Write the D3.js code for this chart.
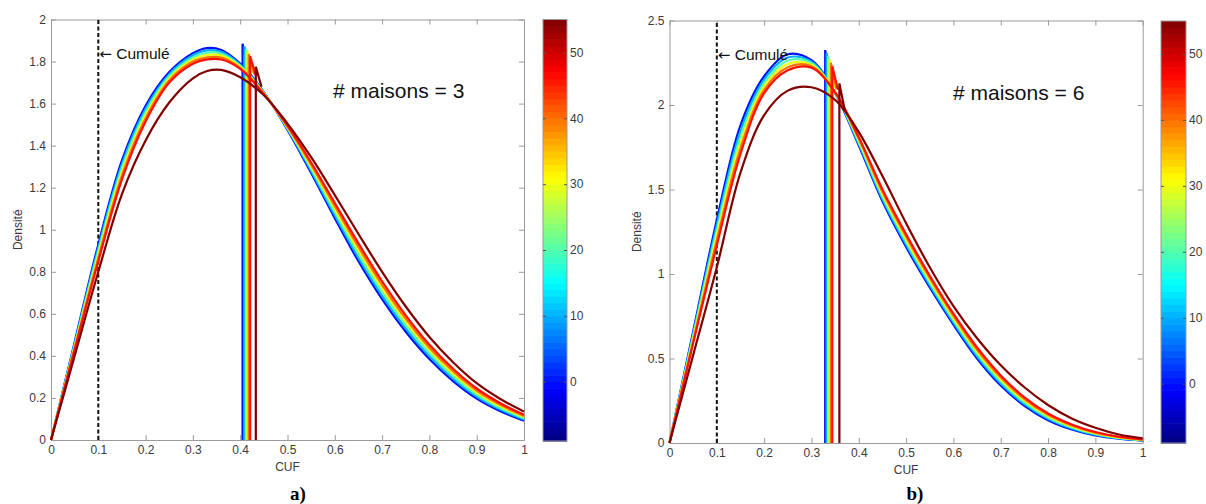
<!DOCTYPE html>
<html><head><meta charset="utf-8">
<script src="https://cdn.jsdelivr.net/npm/d3@7"></script>
<style>
body{margin:0;background:#fff;}
text{font-family:"Liberation Sans",Arial,sans-serif;}
</style></head>
<body><svg id="c" width="1206" height="504"></svg>
<script>
// ---------- DATA ----------
const seriesValues = [0, 10, 20, 30, 40, 46, 55];
const colorDomain = [-9, 55];
const colorbarTicks = [0, 10, 20, 30, 40, 50];
const xTicks = [0, 0.1, 0.2, 0.3, 0.4, 0.5, 0.6, 0.7, 0.8, 0.9, 1];
const yTicksA = [0, 0.2, 0.4, 0.6, 0.8, 1, 1.2, 1.4, 1.6, 1.8, 2];
const yTicksB = [0, 0.5, 1, 1.5, 2, 2.5];
const cumulX = 0.1;

// panel a) (# maisons = 3)
const cufA = [0, 0.05, 0.1, 0.15, 0.2, 0.25, 0.3, 0.33, 0.36, 0.4, 0.45, 0.5, 0.55, 0.6, 0.65, 0.7, 0.75, 0.8, 0.85, 0.9, 0.95, 1];
const densA0  = [0, 0.465, 0.93, 1.33, 1.59, 1.75, 1.84, 1.864, 1.855, 1.79, 1.655, 1.475, 1.27, 1.055, 0.85, 0.67, 0.515, 0.385, 0.28, 0.197, 0.137, 0.092];
const densA10 = [0, 0.458, 0.914, 1.312, 1.575, 1.74, 1.83, 1.853, 1.846, 1.785, 1.653, 1.479, 1.28, 1.069, 0.867, 0.687, 0.531, 0.399, 0.292, 0.207, 0.145, 0.098];
const densA20 = [0, 0.451, 0.898, 1.294, 1.56, 1.73, 1.82, 1.842, 1.837, 1.78, 1.651, 1.483, 1.29, 1.084, 0.884, 0.704, 0.546, 0.414, 0.304, 0.216, 0.152, 0.103];
const densA30 = [0, 0.444, 0.882, 1.276, 1.545, 1.72, 1.81, 1.831, 1.828, 1.775, 1.649, 1.487, 1.30, 1.098, 0.901, 0.721, 0.562, 0.428, 0.315, 0.226, 0.16, 0.109];
const densA40 = [0, 0.437, 0.866, 1.258, 1.53, 1.71, 1.80, 1.82, 1.819, 1.77, 1.647, 1.491, 1.31, 1.113, 0.918, 0.738, 0.577, 0.439, 0.327, 0.235, 0.167, 0.114];
const densA46 = [0, 0.43, 0.85, 1.24, 1.515, 1.70, 1.79, 1.81, 1.81, 1.765, 1.645, 1.495, 1.32, 1.127, 0.935, 0.755, 0.593, 0.453, 0.339, 0.245, 0.175, 0.12];
const densA55 = [0, 0.40, 0.80, 1.17, 1.425, 1.605, 1.72, 1.755, 1.76, 1.725, 1.64, 1.505, 1.345, 1.165, 0.98, 0.80, 0.635, 0.49, 0.37, 0.27, 0.195, 0.135];
const spikeXA   = [0.405, 0.409, 0.412, 0.415, 0.418, 0.421, 0.433];
const spikeTopA = [1.885, 1.872, 1.86, 1.848, 1.836, 1.825, 1.775];
const spikeEndA = [1.75, 1.75, 1.748, 1.745, 1.74, 1.735, 1.68];

// panel b) (# maisons = 6)
const cufB = [0, 0.05, 0.1, 0.15, 0.2, 0.25, 0.3, 0.35, 0.4, 0.45, 0.5, 0.55, 0.6, 0.65, 0.7, 0.75, 0.8, 0.85, 0.9, 0.95, 1];
const densB0  = [0, 0.66, 1.32, 1.88, 2.17, 2.30, 2.265, 2.07, 1.76, 1.43, 1.16, 0.92, 0.70, 0.50, 0.34, 0.22, 0.135, 0.08, 0.045, 0.025, 0.014];
const densB10 = [0, 0.646, 1.29, 1.846, 2.15, 2.281, 2.256, 2.071, 1.77, 1.444, 1.175, 0.934, 0.713, 0.513, 0.352, 0.23, 0.143, 0.086, 0.049, 0.027, 0.016];
const densB20 = [0, 0.632, 1.26, 1.812, 2.13, 2.262, 2.247, 2.072, 1.78, 1.458, 1.189, 0.948, 0.726, 0.526, 0.364, 0.24, 0.151, 0.092, 0.053, 0.03, 0.017];
const densB30 = [0, 0.618, 1.23, 1.778, 2.11, 2.243, 2.238, 2.073, 1.79, 1.472, 1.204, 0.962, 0.739, 0.539, 0.376, 0.25, 0.159, 0.098, 0.057, 0.032, 0.019];
const densB40 = [0, 0.604, 1.20, 1.744, 2.09, 2.224, 2.229, 2.074, 1.80, 1.486, 1.22, 0.976, 0.752, 0.552, 0.388, 0.26, 0.167, 0.104, 0.061, 0.035, 0.02];
const densB46 = [0, 0.59, 1.17, 1.71, 2.07, 2.205, 2.22, 2.075, 1.81, 1.50, 1.235, 0.99, 0.765, 0.565, 0.40, 0.27, 0.175, 0.11, 0.065, 0.037, 0.022];
const densB55 = [0, 0.52, 1.04, 1.60, 1.94, 2.085, 2.105, 2.03, 1.84, 1.58, 1.30, 1.04, 0.81, 0.62, 0.46, 0.33, 0.225, 0.145, 0.09, 0.05, 0.028];
const spikeXB   = [0.329, 0.332, 0.335, 0.338, 0.341, 0.344, 0.359];
const spikeTopB = [2.325, 2.308, 2.29, 2.27, 2.25, 2.23, 2.128];
const spikeEndB = [2.11, 2.11, 2.105, 2.1, 2.095, 2.09, 1.96];

// ---------- DRAW ----------
function jet(t){
  const c = v => Math.max(0, Math.min(1, v));
  const r = c(Math.min(4*t-1.5, -4*t+4.5));
  const g = c(Math.min(4*t-0.5, -4*t+3.5));
  const b = c(Math.min(4*t+0.5, -4*t+2.5));
  return d3.rgb(r*255, g*255, b*255).formatHex();
}
const tScale = d3.scaleLinear().domain(colorDomain).range([0, 1]);
const colorOf = v => jet(tScale(v));

const svg = d3.select("#c");
const AX = "#9a9a9a", TXT = "#3a3a3a";

function panel(cfg){
  const g = svg.append("g");
  const x = d3.scaleLinear().domain([0, 1]).range([cfg.x0, cfg.x1]);
  const y = d3.scaleLinear().domain([0, cfg.ymax]).range([cfg.yb, cfg.yt]);

  const fmt = d => String(d);
  const bx = g.append("g").attr("transform", `translate(0,${cfg.yb})`)
    .call(d3.axisBottom(x).tickValues(xTicks).tickFormat(fmt).tickSizeInner(-5).tickSizeOuter(0).tickPadding(5));
  const tx = g.append("g").attr("transform", `translate(0,${cfg.yt})`)
    .call(d3.axisTop(x).tickValues(xTicks).tickFormat("").tickSizeInner(-5).tickSizeOuter(0));
  const ly = g.append("g").attr("transform", `translate(${cfg.x0},0)`)
    .call(d3.axisLeft(y).tickValues(cfg.yTicks).tickFormat(fmt).tickSizeInner(-5).tickSizeOuter(0).tickPadding(5));
  const ry = g.append("g").attr("transform", `translate(${cfg.x1},0)`)
    .call(d3.axisRight(y).tickValues(cfg.yTicks).tickFormat("").tickSizeInner(-5).tickSizeOuter(0));
  [bx, tx, ly, ry].forEach(a => {
    a.selectAll("path.domain").attr("stroke", AX);
    a.selectAll(".tick line").attr("stroke", AX);
    a.selectAll(".tick text").attr("fill", TXT).style("font-size", "12px").style("font-family", '"Liberation Sans",Arial,sans-serif');
  });

  g.append("line").attr("x1", x(cumulX)).attr("x2", x(cumulX)).attr("y1", y(0)).attr("y2", cfg.yt)
    .attr("stroke", "#111").attr("stroke-width", 2).attr("stroke-dasharray", "4,2.5");

  const line = d3.line().x(d => x(d[0])).y(d => y(d[1])).curve(d3.curveCatmullRom.alpha(0.5));
  cfg.series.forEach((dens, i) => {
    const col = colorOf(seriesValues[i]);
    g.append("path").datum(cfg.cuf.map((c, k) => [c, dens[k]]))
      .attr("d", line).attr("fill", "none").attr("stroke", col).attr("stroke-width", 2.2)
      .attr("stroke-linejoin", "round");
    const sx = cfg.spikeX[i];
    g.append("path").datum([[sx, 0], [sx, cfg.spikeTop[i]], [sx + 0.012, cfg.spikeEnd[i]]])
      .attr("d", d3.line().x(d => x(d[0])).y(d => y(d[1])))
      .attr("fill", "none").attr("stroke", col).attr("stroke-width", 2.2);
  });

  g.append("text").attr("x", (cfg.x0 + cfg.x1) / 2).attr("y", cfg.yb + 31)
    .attr("text-anchor", "middle").attr("fill", TXT).style("font-size", "12px").text("CUF");
  g.append("text").attr("transform", `translate(${cfg.x0 - 29},${(cfg.yt + cfg.yb) / 2}) rotate(-90)`)
    .attr("text-anchor", "middle").attr("fill", TXT).style("font-size", "12px").text("Densité");
  const ct = g.append("text").attr("x", x(cumulX) + 1).attr("y", y(cfg.cumulY)).attr("dy", "0.35em")
    .attr("fill", "#111").style("font-size", "15.5px");
  ct.append("tspan").style("font-family", '"DejaVu Sans",sans-serif').style("font-size", "15px").text("\u2190");
  ct.append("tspan").text(" Cumulé");
  g.append("text").attr("x", cfg.titleX).attr("y", cfg.titleY)
    .attr("fill", "#111").style("font-size", "21px").text(cfg.title);
  g.append("text").attr("x", cfg.tagX).attr("y", 500).attr("text-anchor", "middle")
    .style("font-family", '"Liberation Serif","Times New Roman",serif').style("font-weight", "bold")
    .style("font-size", "19px").attr("fill", "#000").text(cfg.tag);

  // colorbar
  const cy = d3.scaleLinear().domain(colorDomain).range([cfg.cbB, cfg.cbT]);
  const levels = d3.range(colorDomain[0], colorDomain[1]);
  g.append("g").selectAll("rect").data(levels).join("rect")
    .attr("x", cfg.cbL).attr("width", cfg.cbR - cfg.cbL)
    .attr("y", d => cy(d + 1)).attr("height", d => cy(d) - cy(d + 1) + 0.6)
    .attr("fill", d => jet((d + 0.5 - colorDomain[0]) / (colorDomain[1] - colorDomain[0])));
  g.append("rect").attr("x", cfg.cbL).attr("y", cfg.cbT).attr("width", cfg.cbR - cfg.cbL)
    .attr("height", cfg.cbB - cfg.cbT).attr("fill", "none").attr("stroke", AX).attr("stroke-width", 1);
  const cb = g.append("g").attr("transform", `translate(${cfg.cbR},0)`)
    .call(d3.axisRight(cy).tickValues(colorbarTicks).tickFormat(fmt).tickSizeInner(-3).tickSizeOuter(0).tickPadding(3));
  cb.select("path.domain").remove();
  cb.selectAll(".tick line").attr("stroke", "#555");
  cb.selectAll(".tick text").attr("fill", TXT).style("font-size", "12px").style("font-family", '"Liberation Sans",Arial,sans-serif');
  const cbl = g.append("g").attr("transform", `translate(${cfg.cbL},0)`)
    .call(d3.axisLeft(cy).tickValues(colorbarTicks).tickFormat("").tickSizeInner(-3).tickSizeOuter(0));
  cbl.select("path.domain").remove();
  cbl.selectAll(".tick line").attr("stroke", "#555");
}

panel({x0: 51, x1: 524, yt: 19.5, yb: 440, ymax: 2, yTicks: yTicksA,
  cuf: cufA, series: [densA0, densA10, densA20, densA30, densA40, densA46, densA55],
  spikeX: spikeXA, spikeTop: spikeTopA, spikeEnd: spikeEndA, cumulY: 1.84,
  title: "# maisons = 3", titleX: 333, titleY: 98, tag: "a)", tagX: 298,
  cbL: 543, cbR: 567, cbT: 19.5, cbB: 441});
panel({x0: 669.5, x1: 1142.7, yt: 20.5, yb: 443, ymax: 2.5, yTicks: yTicksB,
  cuf: cufB, series: [densB0, densB10, densB20, densB30, densB40, densB46, densB55],
  spikeX: spikeXB, spikeTop: spikeTopB, spikeEnd: spikeEndB, cumulY: 2.3,
  title: "# maisons = 6", titleX: 953, titleY: 100, tag: "b)", tagX: 915,
  cbL: 1161, cbR: 1186, cbT: 21, cbB: 443});
</script></body></html>
